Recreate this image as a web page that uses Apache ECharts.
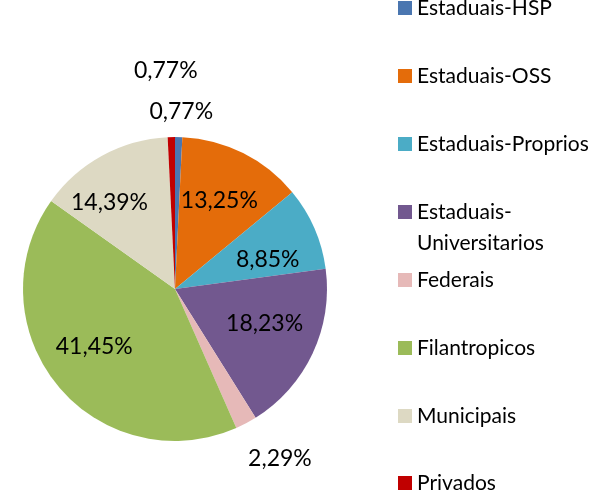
<!DOCTYPE html>
<html>
<head>
<meta charset="utf-8">
<script src="https://cdn.jsdelivr.net/npm/echarts@6/dist/echarts.min.js"></script>
<style>
  html, body { margin: 0; padding: 0; background: #fff; }
  #chart { width: 605px; height: 494px; }
</style>
</head>
<body>
<div id="chart"></div>
<script>
  // dados do grafico
  const categories = ['Estaduais-HSP', 'Estaduais-OSS', 'Estaduais-Proprios', 'Estaduais-Universitarios',
    'Federais', 'Filantropicos', 'Municipais', 'Privados'];
  const percents = [0.77, 13.25, 8.85, 18.23, 2.29, 41.45, 14.39, 0.77];
  const colors = ['#4A76B0', '#E46C0A', '#4BACC6', '#72588F', '#E6B9B8', '#9BBB59', '#DDD9C3', '#C00000'];

  // posicao dos rotulos (distancia do centro) e das legendas
  const labelDist = [177, 99, 99, 99, 190, 99, 99, 218];
  const labelNudgeX = [2, 0, 2, 0, 16, -4, -18, -4];
  const labelNudgeY = [0, 0, 10, -7, 2, -5, 0, 0];
  const legendCenters = [8, 76, 144, 212, 280, 348, 416, 483];
  const cx = 175, cy = 289;

  let myChart = echarts.init(document.getElementById('chart'));

  const legendText = { fontFamily: 'Lato', fontSize: 21, color: '#000', lineHeight: 22 };

  let legends = categories.map(function (name, i) {
    let lg = {
      data: [name],
      left: 398,
      top: legendCenters[i] - 11,
      padding: 0,
      icon: 'rect',
      itemWidth: 14,
      itemHeight: 14,
      selectedMode: false,
      textStyle: legendText
    };
    if (name === 'Estaduais-Universitarios') {
      lg.formatter = function () { return 'Estaduais-'; };
    }
    return lg;
  });
  // segunda linha do item "Estaduais-Universitarios"
  legends.push({
    data: ['Estaduais-Universitarios'],
    left: 398,
    top: 243 - 11,
    padding: 0,
    icon: 'none',
    itemWidth: 14,
    itemHeight: 14,
    itemStyle: { opacity: 0 },
    selectedMode: false,
    formatter: function () { return 'Universitarios'; },
    textStyle: legendText
  });

  let option = {
    backgroundColor: '#fff',
    animation: false,
    legend: legends,
    series: [{
      type: 'pie',
      center: [cx, cy],
      radius: 152,
      startAngle: 90,
      clockwise: true,
      avoidLabelOverlap: false,
      itemStyle: { borderWidth: 0 },
      label: {
        show: true,
        position: 'inside',
        fontFamily: 'Lato',
        fontSize: 23,
        color: '#000',
        formatter: function (p) { return p.value.toFixed(2).replace('.', ',') + '%'; }
      },
      labelLine: { show: false },
      labelLayout: function (p) {
        const r = p.labelRect;
        const lx = r.x + r.width / 2, ly = r.y + r.height / 2;
        const vx = lx - cx, vy = ly - cy;
        const len = Math.sqrt(vx * vx + vy * vy) || 1;
        const k = labelDist[p.dataIndex] / len;
        return {
          dx: vx * (k - 1) + labelNudgeX[p.dataIndex],
          dy: vy * (k - 1) + labelNudgeY[p.dataIndex]
        };
      },
      emphasis: { disabled: true },
      data: categories.map(function (name, i) {
        return { name: name, value: percents[i], itemStyle: { color: colors[i] } };
      })
    }]
  };

  myChart.setOption(option);

  window.addEventListener('resize', function () {
    myChart.resize();
  });
</script>
</body>
</html>
